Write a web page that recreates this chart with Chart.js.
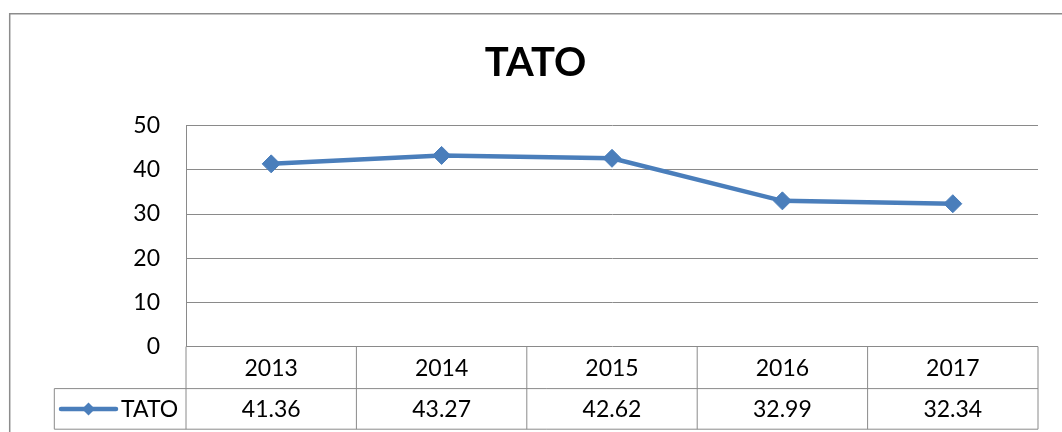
<!DOCTYPE html>
<html>
<head>
<meta charset="utf-8">
<script src="https://cdn.jsdelivr.net/npm/chart.js@4/dist/chart.umd.min.js"></script>
<style>
  html, body { margin: 0; padding: 0; background: #fff; overflow: hidden; }
  #wrap { position: relative; width: 1062px; height: 432px; }
</style>
</head>
<body>
<div id="wrap"><canvas id="chartTato"></canvas></div>
<script>
// Dados
const years = ['2013', '2014', '2015', '2016', '2017'];
const tatoValues = [41.36, 43.27, 42.62, 32.99, 32.34];
const seriesName = 'TATO';
const chartTitle = 'TATO';
const yMin = 0, yMax = 50, yStep = 10;

const blue = '#4a7ebb';
const gridColor = '#8a8a8a';
Chart.defaults.font.family = "Lato, 'Liberation Sans', sans-serif";
Chart.defaults.color = '#000';

// moldura + tabela de dados (estilo Excel)
const dataTablePlugin = {
    id: 'dataTable',
    beforeDraw(chart) {
        const ctx = chart.ctx;
        ctx.save();
        ctx.strokeStyle = '#8c8c8c';
        ctx.lineWidth = 1.5;
        ctx.beginPath();
        ctx.moveTo(9.7, chart.height);
        ctx.lineTo(9.7, 13.7);
        ctx.lineTo(chart.width, 13.7);
        ctx.stroke();
        ctx.restore();
    },
    afterDraw(chart) {
        const ctx = chart.ctx;
        const xs = chart.scales.x;
        const area = chart.chartArea;
        const r1Top = area.bottom, r1Bot = area.bottom + 42, r2Bot = r1Bot + 40.6;
        const half = (xs.getPixelForValue(1) - xs.getPixelForValue(0)) / 2;
        const legendLeft = 54.3;

        ctx.save();
        ctx.strokeStyle = gridColor;
        ctx.lineWidth = 1;
        ctx.beginPath();
        // linhas horizontais
        ctx.moveTo(legendLeft, r1Bot); ctx.lineTo(area.right, r1Bot);
        ctx.moveTo(legendLeft, r2Bot); ctx.lineTo(area.right, r2Bot);
        // eixo esquerdo estendido
        ctx.moveTo(area.left, r1Top); ctx.lineTo(area.left, r2Bot);
        ctx.moveTo(legendLeft, r1Bot); ctx.lineTo(legendLeft, r2Bot);
        years.forEach((y, i) => {
            const right = xs.getPixelForValue(i) + half;
            ctx.moveTo(right, r1Top); ctx.lineTo(right, r2Bot);
        });
        ctx.stroke();

        ctx.fillStyle = '#000';
        ctx.font = "23px Lato, 'Liberation Sans', sans-serif";
        ctx.textAlign = 'center';
        ctx.textBaseline = 'middle';
        const m1 = (r1Top + r1Bot) / 2, m2 = (r1Bot + r2Bot) / 2;
        years.forEach((y, i) => {
            const cx = xs.getPixelForValue(i);
            ctx.fillText(y, cx, m1 + 1);
            ctx.fillText(tatoValues[i].toFixed(2), cx, m2 + 1);
        });

        // chave da legenda
        ctx.strokeStyle = blue;
        ctx.lineWidth = 4.5;
        ctx.lineCap = 'round';
        ctx.beginPath();
        ctx.moveTo(61, m2); ctx.lineTo(116, m2);
        ctx.stroke();
        ctx.fillStyle = blue;
        ctx.beginPath();
        ctx.moveTo(88.5 - 6.5, m2); ctx.lineTo(88.5, m2 - 6.5);
        ctx.lineTo(88.5 + 6.5, m2); ctx.lineTo(88.5, m2 + 6.5);
        ctx.closePath();
        ctx.fill();
        ctx.fillStyle = '#000';
        ctx.textAlign = 'left';
        ctx.fillText(seriesName, 121, m2 + 1);
        ctx.restore();
    }
};

new Chart(document.getElementById('chartTato').getContext('2d'), {
    type: 'line',
    data: {
        labels: years,
        datasets: [{
            label: seriesName,
            data: tatoValues,
            borderColor: blue,
            backgroundColor: blue,
            borderWidth: 4.5,
            pointStyle: 'rectRot',
            pointRadius: 9,
            pointBorderWidth: 1,
            pointBackgroundColor: blue,
            pointBorderColor: blue,
            tension: 0
        }]
    },
    options: {
        responsive: true,
        maintainAspectRatio: false,
        animation: false,
        layout: { padding: { left: 33, right: 24, top: 0, bottom: 85.4 } },
        plugins: {
            legend: { display: false },
            tooltip: { enabled: false },
            title: {
                display: true,
                text: chartTitle,
                color: '#000',
                font: { size: 40, weight: 'bold' },
                padding: { top: 38.6, bottom: 39.1 }
            }
        },
        scales: {
            x: { type: 'category', display: false, offset: true },
            y: {
                min: yMin, max: yMax,
                afterFit: (s) => { s.width = 153; },
                ticks: { stepSize: yStep, padding: 26, font: { size: 23 }, color: '#000' },
                grid: { color: gridColor, lineWidth: 1, drawTicks: false },
                border: { display: true, color: gridColor, width: 1 }
            }
        }
    },
    plugins: [dataTablePlugin]
});
</script>
</body>
</html>
